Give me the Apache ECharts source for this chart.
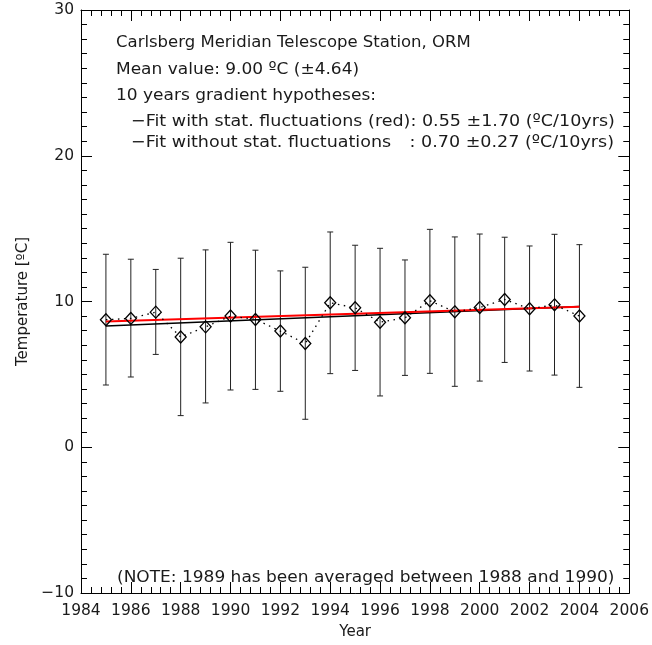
<!DOCTYPE html>
<html>
<head>
<meta charset="utf-8">
<script src="https://cdn.jsdelivr.net/npm/echarts@6/dist/echarts.min.js"></script>
<style>
html, body { margin: 0; padding: 0; background: #fff; }
#main { width: 652px; height: 645px; }
</style>
</head>
<body>
<div id="main"></div>
<script>
// yearly mean temperature, CMT station ORM
var years = [1985, 1986, 1987, 1988, 1989, 1990, 1991, 1992, 1993, 1994,
	1995, 1996, 1997, 1998, 1999, 2000, 2001, 2002, 2003, 2004];
var meanTemp = [8.75, 8.84, 9.27, 7.56, 8.26, 9.0, 8.77, 7.97, 7.12, 9.91,
	9.57, 8.58, 8.88, 10.05, 9.29, 9.59, 10.14, 9.5, 9.77, 9.0];
var errLow = [4.27, 4.82, 6.37, 2.17, 3.04, 3.93, 3.97, 3.84, 1.92, 5.05,
	5.27, 3.52, 4.93, 5.07, 4.18, 4.54, 5.82, 5.23, 4.95, 4.11];
var errHigh = [13.24, 12.9, 12.2, 12.97, 13.54, 14.06, 13.52, 12.1, 12.35, 14.77,
	13.86, 13.65, 12.85, 14.95, 14.43, 14.63, 14.41, 13.81, 14.61, 13.9];
// fit lines (start / end year)
var fitYears = [1985, 2004];
var fitRed = [8.62, 9.64];
var fitBlack = [8.32, 9.65];
// axis ticks
var xTicks = [1984, 2006, 2];
var yTicks = [-10, 30, 10];

var font = 'DejaVu Sans';
var txtFont = '16.5px "DejaVu Sans"';
var txtColor = '#1a1a1a';

var myChart = echarts.init(document.getElementById('main'));

var meanData = [];
var errData = [];
for (var i = 0; i < years.length; i++) {
	meanData.push([years[i], meanTemp[i]]);
	errData.push([years[i], errLow[i], errHigh[i]]);
}
var redData = [], blackData = [];
for (var i = 0; i < fitYears.length; i++) {
	redData.push([fitYears[i], fitRed[i]]);
	blackData.push([fitYears[i], fitBlack[i]]);
}

function minus(v) {
	return String(v).replace('-', '\u2212');
}

// one line of the annotation block
function label(text, x, y, align, sx) {
	return {
		type : 'text',
		x : x,
		y : y,
		scaleX : sx || 1,
		style : { text : text, font : txtFont, fill : txtColor, align : align, verticalAlign : 'middle' }
	};
}

var baseX = {
	type : 'value',
	min : xTicks[0],
	max : xTicks[1],
	interval : xTicks[2],
	splitLine : { show : false },
	axisLine : { show : true, onZero : false, lineStyle : { color : '#000', width : 1 } },
	axisTick : { show : true, inside : true, length : 11, lineStyle : { color : '#000' } },
	minorTick : { show : true, splitNumber : 5, length : 6, lineStyle : { color : '#000' } }
};
var baseY = {
	type : 'value',
	min : yTicks[0],
	max : yTicks[1],
	interval : yTicks[2],
	splitLine : { show : false },
	axisLine : { show : true, onZero : false, lineStyle : { color : '#000', width : 1 } },
	axisTick : { show : true, inside : true, length : 11, lineStyle : { color : '#000' } },
	minorTick : { show : true, splitNumber : 10, length : 6, lineStyle : { color : '#000' } }
};

var option = {
	animation : false,
	backgroundColor : '#fff',
	grid : { left : 81, right : 22, top : 10, bottom : 51 },
	xAxis : [
		echarts.util.merge({
			position : 'bottom',
			name : 'Year',
			nameLocation : 'middle',
			nameGap : 32,
			nameTextStyle : { fontFamily : font, fontSize : 15, color : txtColor },
			axisLabel : { fontFamily : font, fontSize : 15.5, color : txtColor, margin : 10,
				formatter : function(v) { return String(v); } }
		}, baseX, true),
		echarts.util.merge({
			position : 'top',
			axisLabel : { show : false }
		}, baseX, true)
	],
	yAxis : [
		echarts.util.merge({
			position : 'left',
			name : 'Temperature [\u00baC]',
			nameLocation : 'middle',
			nameGap : 50,
			nameTextStyle : { fontFamily : font, fontSize : 15, color : txtColor },
			axisLabel : { fontFamily : font, fontSize : 15.5, color : txtColor, margin : 7,
				formatter : function(v) { return minus(v); } }
		}, baseY, true),
		echarts.util.merge({
			position : 'right',
			axisLabel : { show : false }
		}, baseY, true)
	],
	series : [ {
		name : 'err',
		type : 'custom',
		xAxisIndex : 0,
		yAxisIndex : 0,
		data : errData,
		z : 2,
		renderItem : function(params, api) {
			var x = api.coord([api.value(0), api.value(1)])[0];
			var lo = api.coord([api.value(0), api.value(1)])[1];
			var hi = api.coord([api.value(0), api.value(2)])[1];
			var cap = 3;
			var st = { stroke : '#222', lineWidth : 1 };
			return {
				type : 'group',
				children : [
					{ type : 'line', shape : { x1 : x, y1 : lo, x2 : x, y2 : hi }, style : st },
					{ type : 'line', shape : { x1 : x - cap, y1 : lo, x2 : x + cap, y2 : lo }, style : st },
					{ type : 'line', shape : { x1 : x - cap, y1 : hi, x2 : x + cap, y2 : hi }, style : st }
				]
			};
		}
	}, {
		name : 'fitBlack',
		type : 'line',
		data : blackData,
		symbol : 'none',
		z : 3,
		lineStyle : { color : '#000', width : 1.5 }
	}, {
		name : 'fitRed',
		type : 'line',
		data : redData,
		symbol : 'none',
		z : 4,
		lineStyle : { color : '#f00', width : 2 }
	}, {
		name : 'mean',
		type : 'line',
		data : meanData,
		symbol : 'diamond',
		symbolSize : [11, 12],
		z : 5,
		lineStyle : { color : '#000', width : 1.3, type : [1.5, 4.5] },
		itemStyle : { color : 'rgba(0,0,0,0)', borderColor : '#000', borderWidth : 1.3 }
	} ],
	graphic : [
		label('Carlsberg Meridian Telescope Station, ORM', 116, 43, 'left'),
		label('Mean value: 9.00 \u00baC (\u00b14.64)', 116, 70, 'left', 1.03),
		label('10 years gradient hypotheses:', 116, 96, 'left', 1.03),
		label('\u2212Fit with stat. fluctuations (red): 0.55 \u00b11.70 (\u00baC/10yrs)', 131, 122, 'left', 1.062),
		label('\u2212Fit without stat. fluctuations', 131, 143, 'left', 1.062),
		label(': 0.70 \u00b10.27 (\u00baC/10yrs)', 614, 143, 'right', 1.062),
		label('(NOTE: 1989 has been averaged between 1988 and 1990)', 117, 578, 'left', 1.03)
	]
};
myChart.setOption(option);
</script>
</body>
</html>
